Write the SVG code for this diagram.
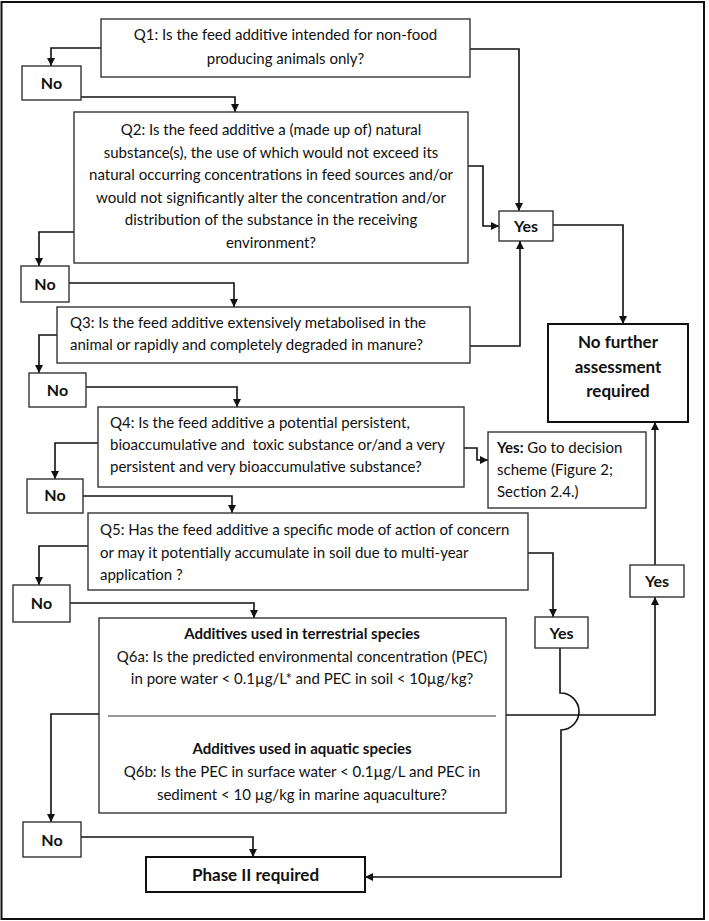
<svg xmlns="http://www.w3.org/2000/svg" width="709" height="921" viewBox="0 0 709 921">
<style>
text{font-family:Lato,"Liberation Sans",sans-serif;font-size:15px;fill:#111}
.c{text-anchor:middle}
.b{font-weight:bold}
.lab{font-weight:bold;font-size:16px}
.big{font-size:17px;font-weight:bold}
.box{fill:#fff;stroke:#333;stroke-width:1.4}
.thick{fill:#fff;stroke:#111;stroke-width:2}
.ln{fill:none;stroke:#111;stroke-width:1.6}
</style>
<defs>
<marker id="ah" viewBox="0 0 10 10" refX="10" refY="5" markerWidth="8" markerHeight="8" markerUnits="userSpaceOnUse" orient="auto"><path d="M0,0 L10,5 L0,10 z" fill="#111"/></marker>
</defs>
<rect x="1.5" y="2" width="702.5" height="917" fill="#fff" stroke="#111" stroke-width="2"/>
<g id="connectors" class="ln">
<path class="ln" d="M101,48 H51 V66" marker-end="url(#ah)"/>
<path class="ln" d="M81,97 H235 V112" marker-end="url(#ah)"/>
<path class="ln" d="M470,49 H519 V211" marker-end="url(#ah)"/>
<path class="ln" d="M468,166 H483 V226 H499" marker-end="url(#ah)"/>
<path class="ln" d="M553,225 H623 V324" marker-end="url(#ah)"/>
<path class="ln" d="M470,346 H520 V241" marker-end="url(#ah)"/>
<path class="ln" d="M74,232 H39 V266" marker-end="url(#ah)"/>
<path class="ln" d="M69,283 H234 V307" marker-end="url(#ah)"/>
<path class="ln" d="M57,335 H39 V373" marker-end="url(#ah)"/>
<path class="ln" d="M86,387 H237 V407" marker-end="url(#ah)"/>
<path class="ln" d="M98,443 H55 V479" marker-end="url(#ah)"/>
<path class="ln" d="M464,448 H477 V460 H488" marker-end="url(#ah)"/>
<path class="ln" d="M83,496 H232 V513" marker-end="url(#ah)"/>
<path class="ln" d="M88,546 H39 V585" marker-end="url(#ah)"/>
<path class="ln" d="M70,603 H254 V618" marker-end="url(#ah)"/>
<path class="ln" d="M528,553 H553 V617" marker-end="url(#ah)"/>
<path class="ln" d="M560,648 V693 A18.5 18.5 0 0 1 561,730 V877 H365" marker-end="url(#ah)"/>
<path class="ln" d="M506,715 H655 V597" marker-end="url(#ah)"/>
<path class="ln" d="M655,565 V422" marker-end="url(#ah)"/>
<path class="ln" d="M99,714 H51 V822" marker-end="url(#ah)"/>
<path class="ln" d="M81,837 H253 V857" marker-end="url(#ah)"/>
</g>
<g id="q1"><rect class="box" x="101" y="19" width="369" height="58"/>
<text class="c" x="285.5" y="40">Q1: Is the feed additive intended for non-food</text>
<text class="c" x="285.5" y="64">producing animals only?</text></g>
<g id="no1"><rect class="box" x="22" y="66" width="59" height="34"/><text class="c lab" x="51.5" y="89">No</text></g>
<g id="q2"><rect class="box" x="74" y="112" width="394" height="151"/>
<text class="c" x="271" y="135">Q2: Is the feed additive a (made up of) natural</text>
<text class="c" x="271" y="157.5">substance(s), the use of which would not exceed its</text>
<text class="c" x="271" y="180">natural occurring concentrations in feed sources and/or</text>
<text class="c" x="271" y="202.5">would not significantly alter the concentration and/or</text>
<text class="c" x="271" y="225">distribution of the substance in the receiving</text>
<text class="c" x="271" y="247.5">environment?</text></g>
<g id="yes1"><rect class="box" x="499" y="211" width="54" height="30"/><text class="c lab" x="526" y="232">Yes</text></g>
<g id="no2"><rect class="box" x="21" y="266" width="48" height="36"/><text class="c lab" x="45" y="290">No</text></g>
<g id="q3"><rect class="box" x="57" y="307" width="413" height="56"/>
<text x="70" y="328">Q3: Is the feed additive extensively metabolised in the</text>
<text x="70" y="350">animal or rapidly and completely degraded in manure?</text></g>
<g id="nfa"><rect class="thick" x="548" y="324" width="140" height="98"/>
<text class="c big" x="618" y="348">No further</text>
<text class="c big" x="618" y="373">assessment</text>
<text class="c big" x="618" y="397">required</text></g>
<g id="no3"><rect class="box" x="29" y="373" width="57" height="34"/><text class="c lab" x="57.5" y="396">No</text></g>
<g id="q4"><rect class="box" x="98" y="407" width="366" height="80"/>
<text x="110" y="428">Q4: Is the feed additive a potential persistent,</text>
<text x="110" y="450" xml:space="preserve">bioaccumulative and  toxic substance or/and a very</text>
<text x="110" y="472">persistent and very bioaccumulative substance?</text></g>
<g id="yes4"><rect class="box" x="488" y="432" width="158" height="76"/>
<text x="497" y="453"><tspan class="b">Yes:</tspan> Go to decision</text>
<text x="497" y="475">scheme (Figure 2;</text>
<text x="497" y="497">Section 2.4.)</text></g>
<g id="no4"><rect class="box" x="27" y="479" width="56" height="34"/><text class="c lab" x="55" y="501">No</text></g>
<g id="q5"><rect class="box" x="88" y="513" width="440" height="77"/>
<text x="100" y="535">Q5: Has the feed additive a specific mode of action of concern</text>
<text x="100" y="558">or may it potentially accumulate in soil due to multi-year</text>
<text x="100" y="580">application ?</text></g>
<g id="yes6"><rect class="box" x="630" y="565" width="54" height="32"/><text class="c lab" x="657" y="587">Yes</text></g>
<g id="no5"><rect class="box" x="13" y="585" width="57" height="37"/><text class="c lab" x="41.5" y="609">No</text></g>
<g id="yes5"><rect class="box" x="535" y="617" width="53" height="31"/><text class="c lab" x="561.5" y="639">Yes</text></g>
<g id="q6"><rect class="box" x="99" y="618" width="407" height="195"/>
<line x1="108" y1="716" x2="496" y2="716" stroke="#333" stroke-width="1"/>
<text class="c b" x="302" y="639">Additives used in terrestrial species</text>
<text class="c" x="302" y="662">Q6a: Is the predicted environmental concentration (PEC)</text>
<text class="c" x="302" y="684">in pore water &lt; 0.1µg/L* and PEC in soil &lt; 10µg/kg?</text>
<text class="c b" x="302" y="754">Additives used in aquatic species</text>
<text class="c" x="302" y="777">Q6b: Is the PEC in surface water &lt; 0.1µg/L and PEC in</text>
<text class="c" x="302" y="800">sediment &lt; 10 µg/kg in marine aquaculture?</text></g>
<g id="no6"><rect class="box" x="23" y="822" width="58" height="35"/><text class="c lab" x="52" y="846">No</text></g>
<g id="phase2"><rect class="thick" x="146" y="857" width="219" height="35"/><text class="c big" x="255.5" y="881">Phase II required</text></g>
</svg>
